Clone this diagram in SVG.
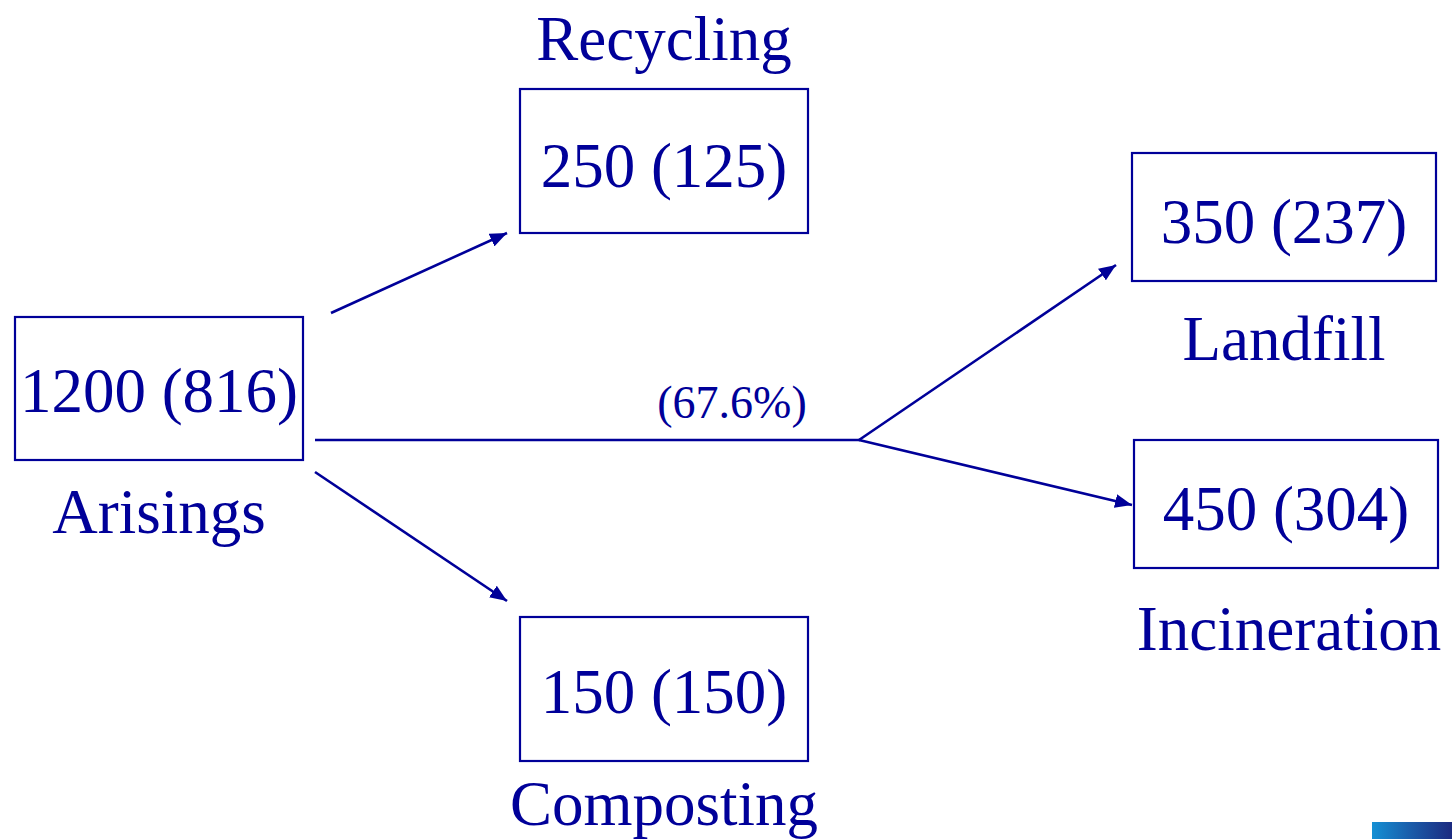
<svg xmlns="http://www.w3.org/2000/svg" width="1452" height="839" viewBox="0 0 1452 839">
<style>
.box{fill:none;stroke:#000099;stroke-width:2.2}
.t{font-family:"Liberation Serif","Times New Roman",serif;font-size:63px;fill:#000099;text-anchor:middle}
.s{font-family:"Liberation Serif","Times New Roman",serif;font-size:46px;fill:#000099;text-anchor:middle}
.c{stroke:#000099;stroke-width:2.6;fill:none}
</style>
<defs>
<marker id="ah" markerUnits="userSpaceOnUse" markerWidth="18" markerHeight="14" refX="17" refY="7" orient="auto">
<path d="M0,0 L17,7 L0,14 z" fill="#000099"/>
</marker>
<linearGradient id="g" x1="0" y1="0" x2="1" y2="0">
<stop offset="0" stop-color="#1590d4"/>
<stop offset="0.5" stop-color="#1a5aa8"/>
<stop offset="1" stop-color="#1c2a80"/>
</linearGradient>
</defs>
<rect width="1452" height="839" fill="#ffffff"/>
<g id="connectors">
<line class="c" x1="331" y1="313" x2="507" y2="233" marker-end="url(#ah)"/>
<line class="c" x1="315" y1="472" x2="507" y2="601" marker-end="url(#ah)"/>
<line class="c" x1="315" y1="440" x2="860" y2="440"/>
<line class="c" x1="859" y1="440" x2="1116" y2="265" marker-end="url(#ah)"/>
<line class="c" x1="859" y1="440" x2="1132" y2="505" marker-end="url(#ah)"/>
<text class="s" x="732" y="418">(67.6%)</text>
</g>
<g id="arisings">
<rect class="box" x="15" y="317" width="288" height="143"/>
<text class="t" x="159" y="412">1200 (816)</text>
<text class="t" x="159" y="533">Arisings</text>
</g>
<g id="recycling">
<text class="t" x="664" y="60">Recycling</text>
<rect class="box" x="520" y="89" width="288" height="144"/>
<text class="t" x="664" y="187">250 (125)</text>
</g>
<g id="composting">
<rect class="box" x="520" y="617" width="288" height="144"/>
<text class="t" x="664" y="713">150 (150)</text>
<text class="t" x="664" y="825">Composting</text>
</g>
<g id="landfill">
<rect class="box" x="1132" y="153" width="304" height="128"/>
<text class="t" x="1284" y="243">350 (237)</text>
<text class="t" x="1284" y="360">Landfill</text>
</g>
<g id="incineration">
<rect class="box" x="1134" y="440" width="304" height="128"/>
<text class="t" x="1286" y="530">450 (304)</text>
<text class="t" x="1289" y="650">Incineration</text>
</g>
<rect x="1372" y="822" width="80" height="17" fill="url(#g)"/>
</svg>
